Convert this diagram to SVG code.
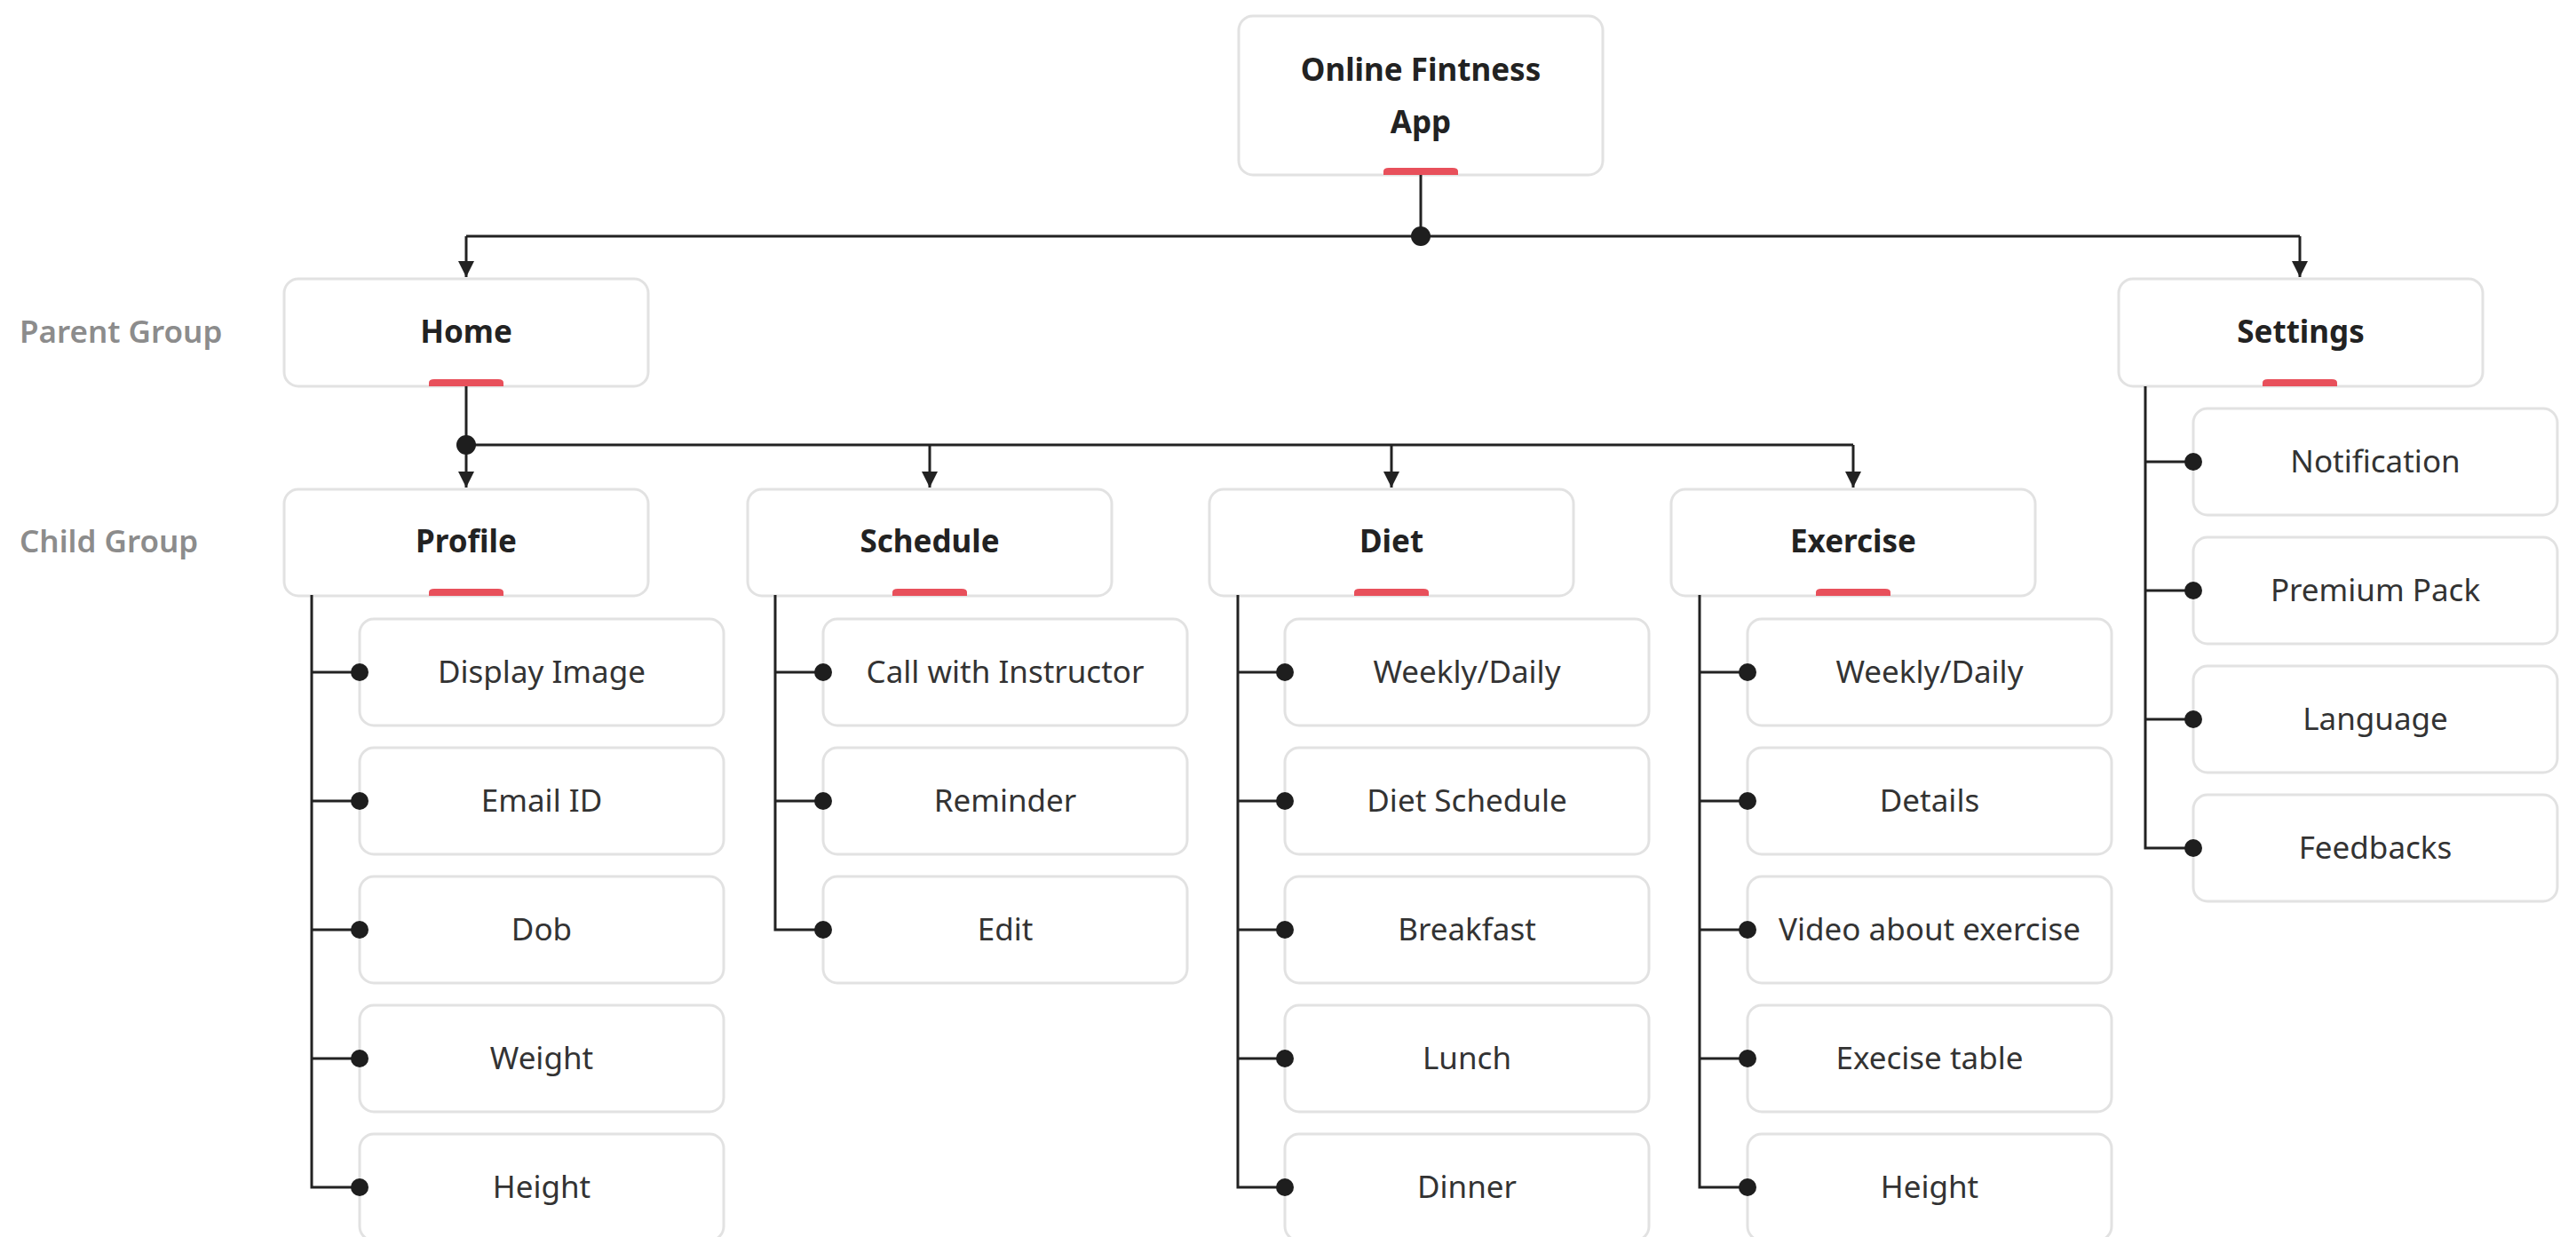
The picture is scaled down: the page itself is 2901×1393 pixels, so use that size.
<svg xmlns="http://www.w3.org/2000/svg" width="2901" height="1393" viewBox="0 0 2901 1393">
<style>
.box{fill:#fff;stroke:#e2e2e2;stroke-width:3}
.bar{fill:#e8505b}
.t{font-family:"Noto Sans","Open Sans",sans-serif;font-size:35px;fill:#333;text-anchor:middle}
.b{font-weight:bold;fill:#222}
.lbl{font-family:"Noto Sans","Open Sans",sans-serif;font-size:35px;font-weight:600;fill:#8c8c8c}
.ln{stroke:#222;stroke-width:3;fill:none}
.dot{fill:#1e1e1e}
</style>
<defs>
<marker id="arrow" viewBox="0 0 16 16" refX="16" refY="8" markerWidth="18" markerHeight="18" orient="auto" markerUnits="userSpaceOnUse">
<path d="M0,0 L16,8 L0,16 Z" fill="#222"/>
</marker>
</defs>
<rect width="2901" height="1393" fill="#fff"/>

<text class="lbl" x="22" y="386">Parent Group</text>
<text class="lbl" x="22" y="622">Child Group</text>

<g id="root">
<rect class="box" x="1395" y="18" width="410" height="179" rx="16"/>
<path class="bar" d="M1558,197 V193 Q1558,189 1564,189 H1636 Q1642,189 1642,193 V197 Z"/>
<text class="t b" x="1600" y="91">Online Fintness</text>
<text class="t b" x="1600" y="150">App</text>
</g>

<g id="home">
<rect class="box" x="320" y="314" width="410" height="121" rx="16"/>
<path class="bar" d="M483,435 V431 Q483,427 489,427 H561 Q567,427 567,431 V435 Z"/>
<text class="t b" x="525" y="386">Home</text>
</g>
<g id="settings">
<rect class="box" x="2386" y="314" width="410" height="121" rx="16"/>
<path class="bar" d="M2548,435 V431 Q2548,427 2554,427 H2626 Q2632,427 2632,431 V435 Z"/>
<text class="t b" x="2591" y="386">Settings</text>
</g>

<g id="profile">
<rect class="box" x="320" y="551" width="410" height="120" rx="16"/>
<path class="bar" d="M483,671 V667 Q483,663 489,663 H561 Q567,663 567,667 V671 Z"/>
<text class="t b" x="525" y="622">Profile</text>
</g>
<g id="schedule">
<rect class="box" x="842" y="551" width="410" height="120" rx="16"/>
<path class="bar" d="M1005,671 V667 Q1005,663 1011,663 H1083 Q1089,663 1089,667 V671 Z"/>
<text class="t b" x="1047" y="622">Schedule</text>
</g>
<g id="diet">
<rect class="box" x="1362" y="551" width="410" height="120" rx="16"/>
<path class="bar" d="M1525,671 V667 Q1525,663 1531,663 H1603 Q1609,663 1609,667 V671 Z"/>
<text class="t b" x="1567" y="622">Diet</text>
</g>
<g id="exercise">
<rect class="box" x="1882" y="551" width="410" height="120" rx="16"/>
<path class="bar" d="M2045,671 V667 Q2045,663 2051,663 H2123 Q2129,663 2129,667 V671 Z"/>
<text class="t b" x="2087" y="622">Exercise</text>
</g>

<g id="profile-display-image"><rect class="box" x="405" y="697" width="410" height="120" rx="16"/><text class="t" x="610" y="769">Display Image</text></g>
<g id="profile-email"><rect class="box" x="405" y="842" width="410" height="120" rx="16"/><text class="t" x="610" y="914">Email ID</text></g>
<g id="profile-dob"><rect class="box" x="405" y="987" width="410" height="120" rx="16"/><text class="t" x="610" y="1059">Dob</text></g>
<g id="profile-weight"><rect class="box" x="405" y="1132" width="410" height="120" rx="16"/><text class="t" x="610" y="1204">Weight</text></g>
<g id="profile-height"><rect class="box" x="405" y="1277" width="410" height="120" rx="16"/><text class="t" x="610" y="1349">Height</text></g>

<g id="schedule-call"><rect class="box" x="927" y="697" width="410" height="120" rx="16"/><text class="t" x="1132" y="769">Call with Instructor</text></g>
<g id="schedule-reminder"><rect class="box" x="927" y="842" width="410" height="120" rx="16"/><text class="t" x="1132" y="914">Reminder</text></g>
<g id="schedule-edit"><rect class="box" x="927" y="987" width="410" height="120" rx="16"/><text class="t" x="1132" y="1059">Edit</text></g>

<g id="diet-weekly"><rect class="box" x="1447" y="697" width="410" height="120" rx="16"/><text class="t" x="1652" y="769">Weekly/Daily</text></g>
<g id="diet-schedule"><rect class="box" x="1447" y="842" width="410" height="120" rx="16"/><text class="t" x="1652" y="914">Diet Schedule</text></g>
<g id="diet-breakfast"><rect class="box" x="1447" y="987" width="410" height="120" rx="16"/><text class="t" x="1652" y="1059">Breakfast</text></g>
<g id="diet-lunch"><rect class="box" x="1447" y="1132" width="410" height="120" rx="16"/><text class="t" x="1652" y="1204">Lunch</text></g>
<g id="diet-dinner"><rect class="box" x="1447" y="1277" width="410" height="120" rx="16"/><text class="t" x="1652" y="1349">Dinner</text></g>

<g id="exercise-weekly"><rect class="box" x="1968" y="697" width="410" height="120" rx="16"/><text class="t" x="2173" y="769">Weekly/Daily</text></g>
<g id="exercise-details"><rect class="box" x="1968" y="842" width="410" height="120" rx="16"/><text class="t" x="2173" y="914">Details</text></g>
<g id="exercise-video"><rect class="box" x="1968" y="987" width="410" height="120" rx="16"/><text class="t" x="2173" y="1059">Video about exercise</text></g>
<g id="exercise-table"><rect class="box" x="1968" y="1132" width="410" height="120" rx="16"/><text class="t" x="2173" y="1204">Execise table</text></g>
<g id="exercise-height"><rect class="box" x="1968" y="1277" width="410" height="120" rx="16"/><text class="t" x="2173" y="1349">Height</text></g>

<g id="settings-notification"><rect class="box" x="2470" y="460" width="410" height="120" rx="16"/><text class="t" x="2675" y="532">Notification</text></g>
<g id="settings-premium"><rect class="box" x="2470" y="605" width="410" height="120" rx="16"/><text class="t" x="2675" y="677">Premium Pack</text></g>
<g id="settings-language"><rect class="box" x="2470" y="750" width="410" height="120" rx="16"/><text class="t" x="2675" y="822">Language</text></g>
<g id="settings-feedbacks"><rect class="box" x="2470" y="895" width="410" height="120" rx="16"/><text class="t" x="2675" y="967">Feedbacks</text></g>

<g id="connectors">
<path class="ln" d="M1600,197 V266"/>
<path class="ln" d="M525,266 H2590"/>
<path class="ln" d="M525,266 V312" marker-end="url(#arrow)"/>
<path class="ln" d="M2590,266 V312" marker-end="url(#arrow)"/>
<circle class="dot" cx="1600" cy="266" r="11"/>
<path class="ln" d="M525,435 V549" marker-end="url(#arrow)"/>
<path class="ln" d="M525,501 H2087"/>
<path class="ln" d="M1047,501 V549" marker-end="url(#arrow)"/>
<path class="ln" d="M1567,501 V549" marker-end="url(#arrow)"/>
<path class="ln" d="M2087,501 V549" marker-end="url(#arrow)"/>
<circle class="dot" cx="525" cy="501" r="11"/>
<path class="ln" d="M351,670 V1337 H405 M351,757 H405 M351,902 H405 M351,1047 H405 M351,1192 H405"/>
<circle class="dot" cx="405" cy="757" r="10"/><circle class="dot" cx="405" cy="902" r="10"/><circle class="dot" cx="405" cy="1047" r="10"/><circle class="dot" cx="405" cy="1192" r="10"/><circle class="dot" cx="405" cy="1337" r="10"/>
<path class="ln" d="M873,670 V1047 H927 M873,757 H927 M873,902 H927"/>
<circle class="dot" cx="927" cy="757" r="10"/><circle class="dot" cx="927" cy="902" r="10"/><circle class="dot" cx="927" cy="1047" r="10"/>
<path class="ln" d="M1394,670 V1337 H1447 M1394,757 H1447 M1394,902 H1447 M1394,1047 H1447 M1394,1192 H1447"/>
<circle class="dot" cx="1447" cy="757" r="10"/><circle class="dot" cx="1447" cy="902" r="10"/><circle class="dot" cx="1447" cy="1047" r="10"/><circle class="dot" cx="1447" cy="1192" r="10"/><circle class="dot" cx="1447" cy="1337" r="10"/>
<path class="ln" d="M1914,670 V1337 H1968 M1914,757 H1968 M1914,902 H1968 M1914,1047 H1968 M1914,1192 H1968"/>
<circle class="dot" cx="1968" cy="757" r="10"/><circle class="dot" cx="1968" cy="902" r="10"/><circle class="dot" cx="1968" cy="1047" r="10"/><circle class="dot" cx="1968" cy="1192" r="10"/><circle class="dot" cx="1968" cy="1337" r="10"/>
<path class="ln" d="M2416,435 V955 H2470 M2416,520 H2470 M2416,665 H2470 M2416,810 H2470"/>
<circle class="dot" cx="2470" cy="520" r="10"/><circle class="dot" cx="2470" cy="665" r="10"/><circle class="dot" cx="2470" cy="810" r="10"/><circle class="dot" cx="2470" cy="955" r="10"/>
</g>
</svg>
